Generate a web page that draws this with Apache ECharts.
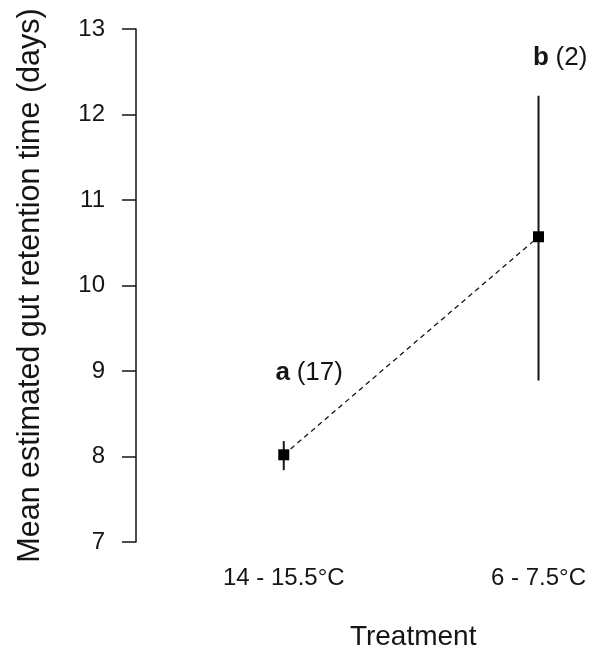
<!DOCTYPE html>
<html>
<head>
<meta charset="utf-8">
<script src="https://cdn.jsdelivr.net/npm/echarts@6/dist/echarts.min.js"></script>
<style>html,body{margin:0;padding:0;background:#fff;}#c{width:589px;height:666px;}</style>
</head>
<body>
<div id="c"></div>
<script>
var categories = ['14 - 15.5\u00b0C', '6 - 7.5\u00b0C'];
var xPos = [1, 2];
var means = [8.02, 10.57];
var lower = [7.84, 8.89];
var upper = [8.18, 12.22];
var groupLetters = ['a', 'b'];
var groupN = ['(17)', '(2)'];
var labelX = [1.1, 2.085];
var labelY = [8.98, 12.66];
var yTicks = [7, 8, 9, 10, 11, 12, 13];

var FONT = '"Liberation Sans", Arial, sans-serif';
var INK = '#151515';

var chart = echarts.init(document.getElementById('c'), null, {renderer: 'canvas'});

var meanData = xPos.map(function (x, i) { return [x, means[i]]; });
var errData = xPos.map(function (x, i) { return [x, lower[i], upper[i]]; });
var labelData = xPos.map(function (x, i) { return [labelX[i], labelY[i], groupLetters[i], groupN[i]]; });

chart.setOption({
  animation: false,
  backgroundColor: '#fff',
  grid: {left: 136, right: 1, top: 29, bottom: 124, containLabel: false},
  xAxis: {
    type: 'value',
    min: 0.42,
    max: 2.18,
    name: 'Treatment',
    nameLocation: 'middle',
    nameGap: 81,
    nameTextStyle: {fontFamily: FONT, fontSize: 28, color: INK, padding: [0, 0, 0, 106]},
    axisLine: {show: false},
    axisTick: {show: false},
    splitLine: {show: false},
    axisLabel: {
      customValues: xPos,
      margin: 24,
      fontFamily: FONT,
      fontSize: 24,
      color: INK,
      formatter: function (v) {
        var i = xPos.indexOf(Math.round(v));
        return i >= 0 ? categories[i] : '';
      }
    }
  },
  yAxis: {
    type: 'value',
    min: 7,
    max: 13,
    interval: 1,
    name: 'Mean estimated gut retention time (days)',
    nameLocation: 'middle',
    nameGap: 90,
    nameTextStyle: {fontFamily: FONT, fontSize: 30.5, color: INK},
    axisLine: {show: true, lineStyle: {color: INK, width: 1.5}},
    axisTick: {show: true, inside: false, length: 14, lineStyle: {color: INK, width: 1.5}},
    splitLine: {show: false},
    axisLabel: {
      customValues: yTicks,
      margin: 31,
      fontFamily: FONT,
      fontSize: 24,
      color: INK
    }
  },
  series: [
    {
      type: 'line',
      data: meanData,
      symbol: 'none',
      lineStyle: {color: INK, width: 1.3, type: [5, 4]},
      z: 2
    },
    {
      type: 'custom',
      data: errData,
      renderItem: function (params, api) {
        var x = api.value(0);
        var p1 = api.coord([x, api.value(1)]);
        var p2 = api.coord([x, api.value(2)]);
        return {
          type: 'line',
          shape: {x1: p1[0], y1: p1[1], x2: p2[0], y2: p2[1]},
          style: {stroke: INK, lineWidth: 2}
        };
      },
      z: 3
    },
    {
      type: 'scatter',
      data: meanData,
      symbol: 'rect',
      symbolSize: 11,
      itemStyle: {color: '#000', opacity: 1},
      z: 4
    },
    {
      type: 'scatter',
      data: labelData,
      symbolSize: 1,
      silent: true,
      itemStyle: {opacity: 0},
      label: {
        show: true,
        position: 'inside',
        opacity: 1,
        formatter: function (p) { return '{b|' + p.value[2] + '}  {n|' + p.value[3] + '}'; },
        rich: {
          b: {fontFamily: FONT, fontSize: 26, fontWeight: 'bold', color: INK, opacity: 1},
          n: {fontFamily: FONT, fontSize: 26, color: INK, opacity: 1}
        }
      },
      z: 5
    }
  ]
});
</script>
</body>
</html>
